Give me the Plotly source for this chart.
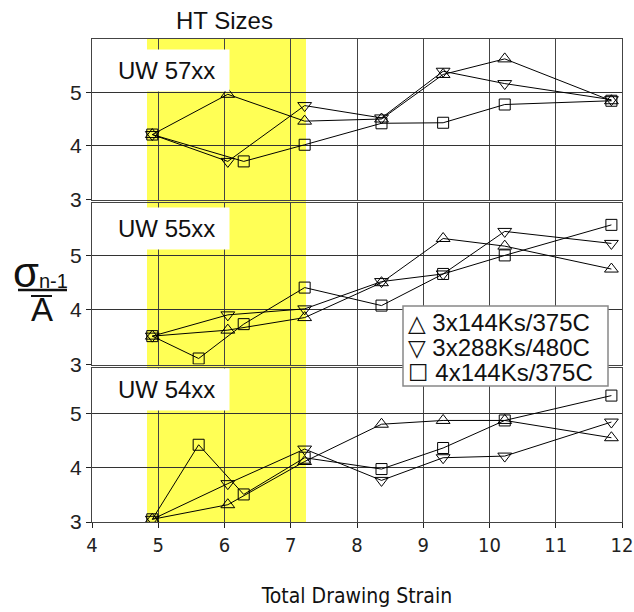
import plotly.graph_objects as go
from plotly.subplots import make_subplots

# Total drawing strain at which each series was sampled
STRAIN_TRI = [4.91, 6.05, 7.21, 8.37, 9.30, 10.23, 11.84]
STRAIN_SQ_57 = [4.91, 6.29, 7.21, 8.37, 9.30, 10.23, 11.84]
STRAIN_SQ = [4.91, 5.61, 6.29, 7.21, 8.37, 9.30, 10.23, 11.84]

# sigma(n-1) / mean A for each heat-treatment schedule
UW57_3X144 = [4.21, 4.96, 4.46, 4.50, 5.33, 5.62, 4.84]
UW57_3X288 = [4.21, 3.71, 4.75, 4.52, 5.39, 5.16, 4.86]
UW57_4X144 = [4.21, 3.71, 4.02, 4.42, 4.43, 4.77, 4.84]

UW55_3X144 = [3.52, 3.63, 3.86, 4.50, 5.31, 5.17, 4.75]
UW55_3X288 = [3.52, 3.91, 4.02, 4.52, 4.66, 5.44, 5.22]
UW55_4X144 = [3.52, 3.11, 3.74, 4.41, 4.08, 4.66, 5.00, 5.56]

UW54_3X144 = [3.05, 3.32, 4.12, 4.81, 4.88, 4.88, 4.56]
UW54_3X288 = [3.05, 3.71, 4.35, 3.77, 4.19, 4.22, 4.85]
UW54_4X144 = [3.05, 4.43, 3.51, 4.19, 3.98, 4.37, 4.88, 5.34]

SERIES_NAMES = ["3x144Ks/375C", "3x288Ks/480C", "4x144Ks/375C"]
SERIES_GLYPHS = ["\u25b3", "\u25bd", "\u2610"]
PANEL_LABELS = ["UW 57xx", "UW 55xx", "UW 54xx"]
HT_RANGE = [4.83, 7.23]
Y_TICKS = [3, 4, 5]
X_TICKS = list(range(4, 13))
X_RANGE = [4, 12]
Y_RANGES = [[3, 6.0], [3, 5.97], [3, 5.86]]

PANELS = [
    (STRAIN_TRI, UW57_3X144, STRAIN_TRI, UW57_3X288, STRAIN_SQ_57, UW57_4X144),
    (STRAIN_TRI, UW55_3X144, STRAIN_TRI, UW55_3X288, STRAIN_SQ, UW55_4X144),
    (STRAIN_TRI, UW54_3X144, STRAIN_TRI, UW54_3X288, STRAIN_SQ, UW54_4X144),
]

W, H = 634, 612
ML, MR, MT, MB = 92, 12, 38, 90
PW, PH = W - ML - MR, H - MT - MB


def px(xp):
    return (xp - ML) / PW


def py(yp):
    return (H - MB - yp) / PH


FONT = "Liberation Sans, Arial, sans-serif"
LEG_FONT = "Liberation Sans, DejaVu Sans"
NARROW = "Liberation Sans Narrow, Arial Narrow, DejaVu Sans Condensed, Liberation Sans, sans-serif"

fig = make_subplots(rows=3, cols=1, shared_xaxes=True, vertical_spacing=0.01)

symbols = ["triangle-up-open", "triangle-down-open", "square-open"]
sizes = [12, 12, 11]
for row, panel in enumerate(PANELS, start=1):
    for k in range(3):
        xs, ys = panel[2 * k], panel[2 * k + 1]
        fig.add_trace(
            go.Scatter(
                x=xs, y=ys, mode="lines+markers", name=SERIES_NAMES[k],
                showlegend=False,
                line=dict(color="black", width=1),
                marker=dict(symbol=symbols[k], size=sizes[k],
                            color="black", line=dict(color="black", width=1)),
            ),
            row=row, col=1,
        )

# pixel edges (top, bottom) of each plotting area
edges = [(38.5, 199.5), (202.5, 364.5), (367.5, 522)]
for i, (top, bot) in enumerate(edges, start=1):
    sfx = "" if i == 1 else str(i)
    fig.layout["yaxis" + sfx].update(
        domain=[py(bot), py(top)], range=Y_RANGES[i - 1], automargin=False,
        tickvals=Y_TICKS, ticks="outside", ticklen=5, tickcolor="#222",
        showgrid=True, gridcolor="#333", gridwidth=1,
        showline=True, mirror=True, linecolor="#444", linewidth=1,
        zeroline=False, tickfont=dict(family=FONT, size=21, color="#222"),
    )
    fig.layout["xaxis" + sfx].update(
        range=X_RANGE, tickvals=X_TICKS, showgrid=True, gridcolor="#444",
        gridwidth=1, showline=True, mirror=True, linecolor="#444",
        linewidth=1, zeroline=False, automargin=False,
        showticklabels=(i == 3), ticks="outside" if i == 3 else "",
        ticklen=5, tickcolor="#222", ticklabeloverflow="allow",
        tickfont=dict(family=NARROW, size=20, color="#222"),
    )

fig.layout.xaxis3.title = dict(
    text="Total Drawing Strain", font=dict(family=NARROW, size=21, color="#111"),
    standoff=32,
)

# heat-treatment size band
fig.add_shape(type="rect", xref="x", yref="paper", x0=HT_RANGE[0], x1=HT_RANGE[1],
              y0=0, y1=1, fillcolor="#ffff55", line=dict(width=0), layer="below")

annotations = []
annotations.append(dict(
    text="HT Sizes", xref="paper", yref="paper", x=px(224), y=py(20),
    xanchor="center", yanchor="middle", showarrow=False,
    font=dict(family=FONT, size=24, color="#111"),
))

label_centres = [70, 229, 389]
for lab, yc in zip(PANEL_LABELS, label_centres):
    annotations.append(dict(
        text=lab, xref="paper", yref="paper", x=px(113), y=py(yc),
        xanchor="left", yanchor="middle", showarrow=False, align="left",
        width=107, height=33, borderpad=4, bgcolor="white",
        font=dict(family=FONT, size=24, color="#111"),
    ))

# legend box
fig.add_shape(type="rect", xref="paper", yref="paper",
              x0=px(403), x1=px(608), y0=py(386), y1=py(306),
              fillcolor="white", line=dict(color="#888", width=1.5), layer="above")
for j, (g, nm) in enumerate(zip(SERIES_GLYPHS, SERIES_NAMES)):
    yc = 322 + 25 * j
    annotations.append(dict(
        text=f"<span style='font-family:DejaVu Sans;font-size:23px'>{g}</span> {nm}",
        xref="paper", yref="paper", x=px(407), y=py(yc),
        xanchor="left", yanchor="middle", showarrow=False, borderpad=0,
        font=dict(family=LEG_FONT, size=24, color="#111"),
    ))

# y-axis label: sigma_(n-1) over A-bar
annotations.append(dict(
    text="\u03c3", xref="paper", yref="paper", x=px(26), y=py(272),
    xanchor="center", yanchor="middle", showarrow=False,
    font=dict(family=FONT, size=42, color="#111"),
))
annotations.append(dict(
    text="n-1", xref="paper", yref="paper", x=px(37), y=py(281),
    xanchor="left", yanchor="middle", showarrow=False,
    font=dict(family=FONT, size=20, color="#111"),
))
annotations.append(dict(
    text="A", xref="paper", yref="paper", x=px(42), y=py(309),
    xanchor="center", yanchor="middle", showarrow=False,
    font=dict(family=FONT, size=33, color="#111"),
))
fig.add_shape(type="line", xref="paper", yref="paper",
              x0=px(18), x1=px(67), y0=py(290), y1=py(290),
              line=dict(color="#111", width=2.5))
fig.add_shape(type="line", xref="paper", yref="paper",
              x0=px(31), x1=px(52), y0=py(296), y1=py(296),
              line=dict(color="#111", width=2))

fig.update_layout(
    width=W, height=H, margin=dict(l=ML, r=MR, t=MT, b=MB, autoexpand=False),
    paper_bgcolor="white", plot_bgcolor="rgba(0,0,0,0)",
    showlegend=False, annotations=annotations,
)

fig.write_html("out.html")
